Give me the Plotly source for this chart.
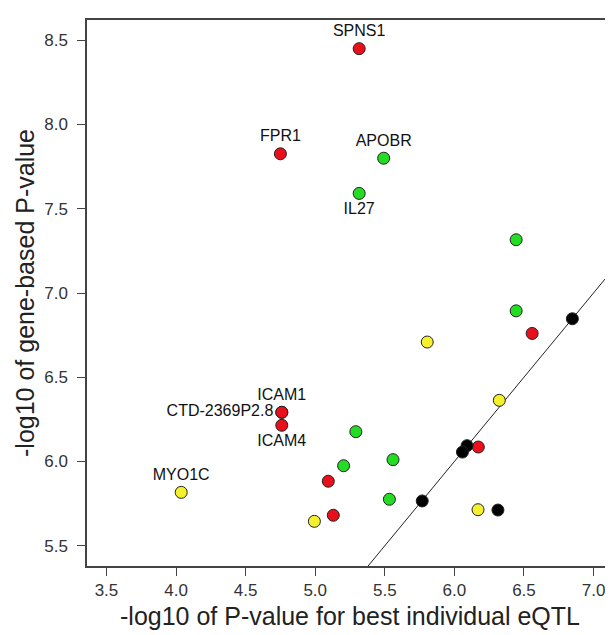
import plotly.graph_objects as go

# -log10 P of best individual eQTL (x) vs -log10 gene-based P (y)
red_x = [5.316, 4.750, 4.760, 4.760, 4.760, 6.559, 6.172, 5.094, 5.130]
red_y = [8.450, 7.826, 6.292, 6.292, 6.215, 6.760, 6.086, 5.883, 5.681]
red_lab = ["SPNS1", "FPR1", "ICAM1", "CTD-2369P2.8", "ICAM4", "", "", "", ""]
red_pos = ["top center", "top center", "top center", "middle left", "bottom center",
           "top center", "top center", "top center", "top center"]

green_x = [5.492, 5.316, 6.444, 6.444, 5.292, 5.559, 5.204, 5.533]
green_y = [7.800, 7.591, 7.316, 6.894, 6.177, 6.011, 5.975, 5.776]
green_lab = ["APOBR", "IL27", "", "", "", "", "", ""]
green_pos = ["top center", "bottom center", "top center", "top center",
             "top center", "top center", "top center", "top center"]

yellow_x = [5.805, 6.323, 6.170, 4.994, 4.037]
yellow_y = [6.709, 6.363, 5.714, 5.645, 5.817]
yellow_lab = ["", "", "", "", "MYO1C"]

black_x = [6.848, 6.091, 6.058, 5.769, 6.313]
black_y = [6.847, 6.094, 6.056, 5.766, 5.712]

x_ticks = [3.5, 4.0, 4.5, 5.0, 5.5, 6.0, 6.5, 7.0]
y_ticks = [5.5, 6.0, 6.5, 7.0, 7.5, 8.0, 8.5]

FONT = "Liberation Sans, Arial, sans-serif"

fig = go.Figure()

# identity line y = x
fig.add_trace(go.Scatter(x=[3.0, 7.5], y=[3.0, 7.5], mode="lines",
                         line=dict(color="#222222", width=1), hoverinfo="skip"))


def add_points(xs, ys, color, labels=None, pos="top center"):
    fig.add_trace(go.Scatter(
        x=xs, y=ys,
        mode="markers+text" if labels else "markers",
        text=labels, textposition=pos,
        textfont=dict(family=FONT, size=16, color="#111111"),
        marker=dict(size=12, color=color, line=dict(color="#222222", width=1)),
        cliponaxis=False,
    ))


add_points(red_x, red_y, "#E8101A", red_lab, red_pos)
add_points(green_x, green_y, "#22DD22", green_lab, green_pos)
add_points(yellow_x, yellow_y, "#F4F030", yellow_lab, "top center")
add_points(black_x, black_y, "#000000")

axis_common = dict(
    showgrid=False, zeroline=False, showline=True, mirror=True,
    linecolor="#444444", linewidth=1.5,
    ticks="outside", ticklen=8, tickwidth=1.2, tickcolor="#444444",
    tickfont=dict(family=FONT, size=17, color="#333333"),
)

fig.update_layout(
    width=613, height=635,
    margin=dict(l=79, r=6, t=12, b=77),
    plot_bgcolor="white", paper_bgcolor="white",
    showlegend=False,
    xaxis=dict(range=[3.36, 7.14], tickvals=x_ticks,
               ticktext=[f"{v:.1f}" for v in x_ticks], **axis_common),
    yaxis=dict(range=[5.38, 8.62], tickvals=y_ticks, ticklabelstandoff=6,
               ticktext=[f"{v:.1f}" for v in y_ticks], **axis_common),
)

fig.add_annotation(text="-log10 of P-value for best individual eQTL",
                   xref="paper", yref="paper", x=0.5, y=0, yshift=-50,
                   xanchor="center", yanchor="middle", showarrow=False,
                   font=dict(family=FONT, size=25, color="#222222"))
fig.add_annotation(text="-log10 of gene-based P-value",
                   xref="paper", yref="paper", x=0, y=0.5, xshift=-62,
                   xanchor="center", yanchor="middle", textangle=-90, showarrow=False,
                   font=dict(family=FONT, size=25, color="#222222"))

fig.write_html("out.html")
